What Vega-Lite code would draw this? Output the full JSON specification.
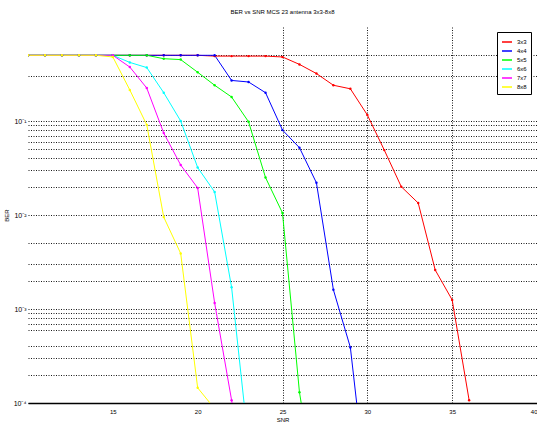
{
  "$schema": "https://vega.github.io/schema/vega-lite/v6.json",
  "width": 509,
  "height": 376,
  "autosize": {"type": "none"},
  "padding": {"left": 28, "top": 27, "right": 0, "bottom": 26},
  "background": "white",
  "config": {"view": {"stroke": null}, "font": "Liberation Sans"},
  "title": {"text": "BER vs SNR MCS 23 antenna 3x3-8x8", "fontSize": 6, "fontWeight": "normal", "offset": 12, "color": "#000"},
  "data": {"values": [
    {"ant":"3x3","snr":10,"ber":0.5},{"ant":"3x3","snr":11,"ber":0.5},{"ant":"3x3","snr":12,"ber":0.5},{"ant":"3x3","snr":13,"ber":0.5},{"ant":"3x3","snr":14,"ber":0.5},{"ant":"3x3","snr":15,"ber":0.5},{"ant":"3x3","snr":16,"ber":0.5},{"ant":"3x3","snr":17,"ber":0.5},{"ant":"3x3","snr":18,"ber":0.5},{"ant":"3x3","snr":19,"ber":0.5},{"ant":"3x3","snr":20,"ber":0.5},{"ant":"3x3","snr":21,"ber":0.49},{"ant":"3x3","snr":22,"ber":0.49},{"ant":"3x3","snr":23,"ber":0.49},{"ant":"3x3","snr":24,"ber":0.49},{"ant":"3x3","snr":25,"ber":0.48},{"ant":"3x3","snr":26,"ber":0.40},{"ant":"3x3","snr":27,"ber":0.32},{"ant":"3x3","snr":28,"ber":0.24},{"ant":"3x3","snr":29,"ber":0.22},{"ant":"3x3","snr":30,"ber":0.116},{"ant":"3x3","snr":31,"ber":0.049},{"ant":"3x3","snr":32,"ber":0.02},{"ant":"3x3","snr":33,"ber":0.0134},{"ant":"3x3","snr":34,"ber":0.0026},{"ant":"3x3","snr":35,"ber":0.00125},{"ant":"3x3","snr":36,"ber":0.000107},
    {"ant":"4x4","snr":10,"ber":0.5},{"ant":"4x4","snr":11,"ber":0.5},{"ant":"4x4","snr":12,"ber":0.5},{"ant":"4x4","snr":13,"ber":0.5},{"ant":"4x4","snr":14,"ber":0.5},{"ant":"4x4","snr":15,"ber":0.5},{"ant":"4x4","snr":16,"ber":0.5},{"ant":"4x4","snr":17,"ber":0.5},{"ant":"4x4","snr":18,"ber":0.5},{"ant":"4x4","snr":19,"ber":0.5},{"ant":"4x4","snr":20,"ber":0.5},{"ant":"4x4","snr":21,"ber":0.5},{"ant":"4x4","snr":22,"ber":0.27},{"ant":"4x4","snr":23,"ber":0.26},{"ant":"4x4","snr":24,"ber":0.20},{"ant":"4x4","snr":25,"ber":0.080},{"ant":"4x4","snr":26,"ber":0.052},{"ant":"4x4","snr":27,"ber":0.022},{"ant":"4x4","snr":28,"ber":0.0016},{"ant":"4x4","snr":29,"ber":0.00039},{"ant":"4x4","snr":30,"ber":0.00001},
    {"ant":"5x5","snr":10,"ber":0.5},{"ant":"5x5","snr":11,"ber":0.5},{"ant":"5x5","snr":12,"ber":0.5},{"ant":"5x5","snr":13,"ber":0.5},{"ant":"5x5","snr":14,"ber":0.5},{"ant":"5x5","snr":15,"ber":0.5},{"ant":"5x5","snr":16,"ber":0.5},{"ant":"5x5","snr":17,"ber":0.5},{"ant":"5x5","snr":18,"ber":0.46},{"ant":"5x5","snr":19,"ber":0.45},{"ant":"5x5","snr":20,"ber":0.33},{"ant":"5x5","snr":21,"ber":0.24},{"ant":"5x5","snr":22,"ber":0.18},{"ant":"5x5","snr":23,"ber":0.098},{"ant":"5x5","snr":24,"ber":0.025},{"ant":"5x5","snr":25,"ber":0.0105},{"ant":"5x5","snr":26,"ber":0.00013},{"ant":"5x5","snr":27,"ber":0.00001},
    {"ant":"6x6","snr":10,"ber":0.5},{"ant":"6x6","snr":11,"ber":0.5},{"ant":"6x6","snr":12,"ber":0.5},{"ant":"6x6","snr":13,"ber":0.5},{"ant":"6x6","snr":14,"ber":0.5},{"ant":"6x6","snr":15,"ber":0.5},{"ant":"6x6","snr":16,"ber":0.42},{"ant":"6x6","snr":17,"ber":0.37},{"ant":"6x6","snr":18,"ber":0.20},{"ant":"6x6","snr":19,"ber":0.10},{"ant":"6x6","snr":20,"ber":0.032},{"ant":"6x6","snr":21,"ber":0.0176},{"ant":"6x6","snr":22,"ber":0.0017},{"ant":"6x6","snr":23,"ber":0.000036},
    {"ant":"7x7","snr":10,"ber":0.5},{"ant":"7x7","snr":11,"ber":0.5},{"ant":"7x7","snr":12,"ber":0.5},{"ant":"7x7","snr":13,"ber":0.5},{"ant":"7x7","snr":14,"ber":0.5},{"ant":"7x7","snr":15,"ber":0.5},{"ant":"7x7","snr":16,"ber":0.375},{"ant":"7x7","snr":17,"ber":0.224},{"ant":"7x7","snr":18,"ber":0.0745},{"ant":"7x7","snr":19,"ber":0.034},{"ant":"7x7","snr":20,"ber":0.0194},{"ant":"7x7","snr":21,"ber":0.00116},{"ant":"7x7","snr":22,"ber":0.000107},{"ant":"7x7","snr":23,"ber":0.00001},
    {"ant":"8x8","snr":10,"ber":0.5},{"ant":"8x8","snr":11,"ber":0.5},{"ant":"8x8","snr":12,"ber":0.5},{"ant":"8x8","snr":13,"ber":0.5},{"ant":"8x8","snr":14,"ber":0.5},{"ant":"8x8","snr":15,"ber":0.48},{"ant":"8x8","snr":16,"ber":0.214},{"ant":"8x8","snr":17,"ber":0.091},{"ant":"8x8","snr":18,"ber":0.0095},{"ant":"8x8","snr":19,"ber":0.0039},{"ant":"8x8","snr":20,"ber":0.000145},{"ant":"8x8","snr":21,"ber":0.000087}
  ]},
  "encoding": {
    "x": {
      "field": "snr", "type": "quantitative",
      "scale": {"domain": [10, 40], "nice": false, "zero": false},
      "axis": {
        "values": [15, 20, 25, 30, 35, 40],
        "title": "SNR", "titleFontSize": 6, "titleFontWeight": "normal", "titlePadding": 2, "titleColor": "#000",
        "labelFontSize": 6, "labelPadding": 5, "labelColor": "#000", "labelFlush": true, "labelOverlap": false,
        "ticks": false, "domainColor": "#000", "domainWidth": 1.5,
        "grid": true, "gridColor": "#000", "gridDash": [1, 1.5], "gridWidth": 1,
        "gridOpacity": {"condition": {"test": "datum.value < 25 || datum.value >= 40", "value": 0}, "value": 0.9}
      }
    },
    "y": {
      "field": "ber", "type": "quantitative", "title": "BER",
      "scale": {"type": "log", "domain": [0.0001, 1], "nice": false},
      "axis": {
        "values": [0.5, 0.3, 0.1, 0.09, 0.08, 0.07, 0.06, 0.05, 0.04, 0.03, 0.02, 0.01, 0.005, 0.003, 0.002, 0.001, 0.0009, 0.0008, 0.0007, 0.0006, 0.0004, 0.0003, 0.0002, 0.0001],
        "labelExpr": "datum.value == 0.1 ? '10⁻¹' : datum.value == 0.01 ? '10⁻²' : datum.value == 0.001 ? '10⁻³' : datum.value == 0.0001 ? '10⁻⁴' : ''",
        "labelFontSize": 7, "labelPadding": 2, "labelColor": "#000", "labelOverlap": false, "labelFlush": false,
        "titleFontSize": 6, "titleFontWeight": "normal", "titlePadding": 4, "titleColor": "#000",
        "ticks": false, "domain": false,
        "grid": true, "gridColor": "#000", "gridDash": [1, 1.5], "gridWidth": 1, "gridOpacity": 0.9
      }
    }
  },
  "layer": [
    {
      "mark": {"type": "line", "strokeWidth": 1, "clip": true},
      "encoding": {
        "color": {
          "field": "ant", "type": "nominal",
          "scale": {"domain": ["3x3", "4x4", "5x5", "6x6", "7x7", "8x8"], "range": ["#ff0000", "#0000ff", "#00ff00", "#00ffff", "#ff00ff", "#ffff00"]},
          "legend": {
            "orient": "none", "legendX": 469, "legendY": 5, "title": null,
            "symbolSize": 100, "symbolStrokeWidth": 1.5,
            "labelFontSize": 6, "labelOffset": 4, "labelColor": "#000", "rowPadding": 0, "padding": 4,
            "strokeColor": "#000", "fillColor": "#fff"
          }
        }
      }
    },
    {
      "mark": {"type": "point", "filled": true, "size": 6, "opacity": 1, "clip": true},
      "encoding": {
        "color": {"field": "ant", "type": "nominal", "legend": null}
      }
    }
  ]
}
